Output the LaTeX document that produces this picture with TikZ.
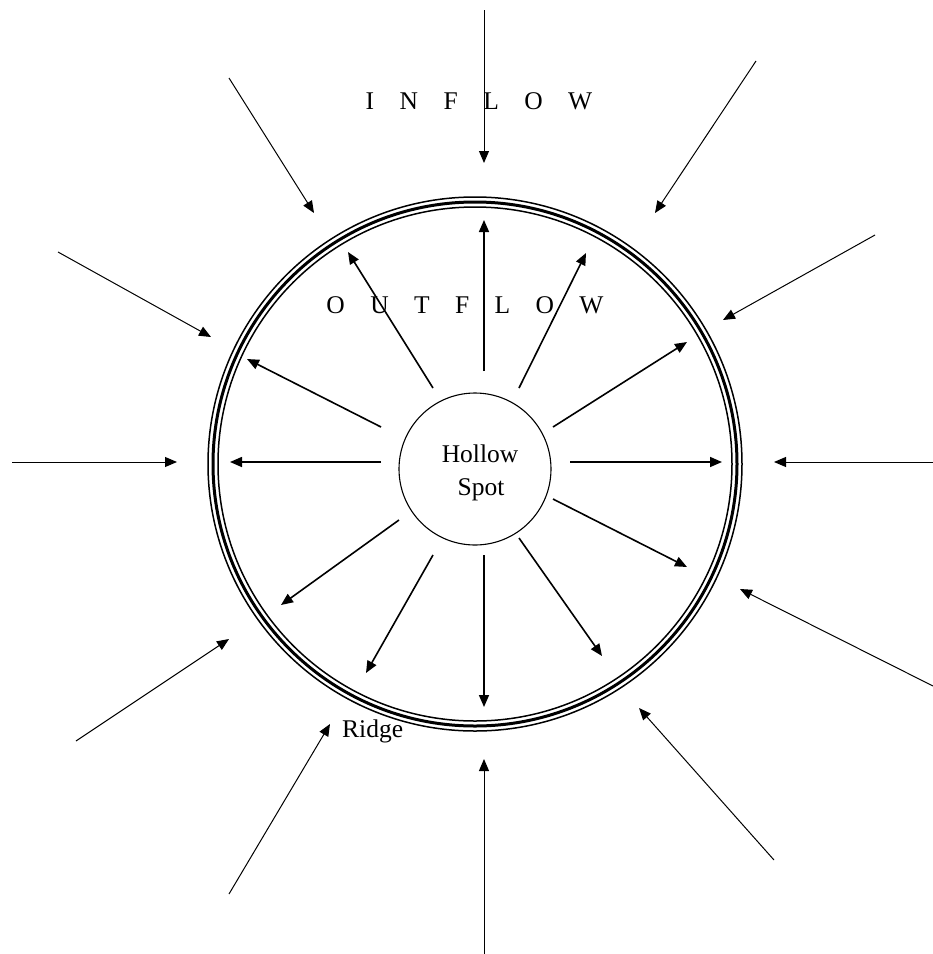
\documentclass[tikz,border=0pt]{standalone}
\usepackage{fontspec}
\setmainfont{Liberation Serif}
\usetikzlibrary{arrows.meta}
\begin{document}
\begin{tikzpicture}[x=1pt,y=-1pt,
  tipstyle/.style={-{Triangle[length=12pt,width=10pt]}},
  inarrow/.style={draw,line width=1pt,tipstyle},
  outarrow/.style={draw,line width=1.6pt,tipstyle},
  lbl/.style={inner sep=0pt,font=\fontsize{25.5}{30}\selectfont}]
\useasboundingbox (0,0) rectangle (933,954);
\fill[white] (0,0) rectangle (933,954);
% ridge ring
\coordinate (rc) at (475,464);
\draw[line width=1.5pt] (rc) circle[radius=267];
\draw[line width=3pt] (rc) circle[radius=262];
\draw[line width=1.5pt] (rc) circle[radius=257];
% hollow spot
\node[circle,draw,line width=1.1pt,minimum size=152pt,inner sep=0pt] (hs) at (475,469) {};
\node[lbl,anchor=base] (hollowtxt) at (480,462) {Hollow};
\node[lbl,anchor=base] (spottxt) at (481,495) {Spot};
% labels
\node[lbl,anchor=base] (inflow) at (479,109) {\spaceskip=25.5pt\relax I N F L O W};
\node[lbl,anchor=base] (outflow) at (465,313) {\spaceskip=25.4pt\relax O U T F L O W};
\node[lbl,anchor=base west] (ridge) at (342,737) {Ridge};
% outflow arrows
\foreach \i/\sx/\sy/\ex/\ey in {
  1/484/371/484/220, 2/433/388/348/252, 3/519/388/586/253,
  4/381/427/247/359, 5/553/427/687/342, 6/381/462/230/462,
  7/570/462/722/462, 8/553/499/687/567, 9/399/520/281/605,
  10/433/555/366/673, 11/484/555/484/707, 12/519/538/602/656}{
  \coordinate (os\i) at (\sx,\sy);
  \coordinate (oe\i) at (\ex,\ey);
  \draw[outarrow] (os\i) -- (oe\i);
}
% inflow arrows
\foreach \i/\sx/\sy/\ex/\ey in {
  1/484/10/484/163, 2/229/78/314/213, 3/756/61/655/213,
  4/58/252/211/337, 5/875/235/723/320, 6/12/462/177/462,
  7/933/462/774/462, 8/933/686/740/589, 9/76/741/229/639,
  10/229/894/330/724, 11/484/954/484/759, 12/774/860/639/708}{
  \coordinate (is\i) at (\sx,\sy);
  \coordinate (ie\i) at (\ex,\ey);
  \draw[inarrow] (is\i) -- (ie\i);
}
\end{tikzpicture}
\end{document}
